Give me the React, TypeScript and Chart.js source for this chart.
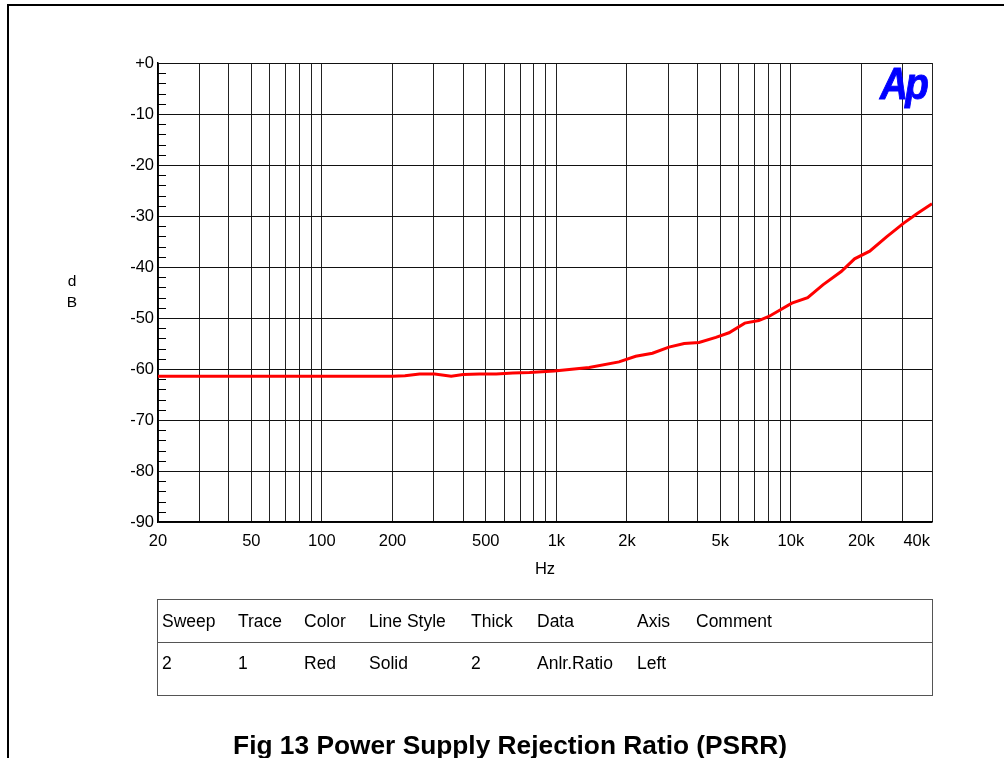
import React, { useEffect, useRef } from 'react';
import { Chart, registerables } from 'chart.js';

Chart.register(...registerables);

// ---- data ----
const freqHz = [20, 25, 30, 40, 50, 63, 80, 100, 125, 160, 200, 226, 261, 303, 356, 400, 470, 554, 652, 768, 980, 1380, 1850, 2180, 2570, 3020, 3510, 4060, 4790, 5450, 6360, 7300, 8060, 10100, 11800, 13700, 16400, 18700, 21700, 25600, 30300, 34600, 40000];
const psrrDb = [-61.4, -61.4, -61.4, -61.4, -61.4, -61.4, -61.4, -61.4, -61.4, -61.4, -61.4, -61.3, -61.0, -61.0, -61.4, -61.1, -61.0, -61.0, -60.8, -60.7, -60.4, -59.7, -58.6, -57.5, -56.9, -55.7, -55.0, -54.8, -53.8, -52.9, -51.0, -50.5, -49.7, -47.1, -46.0, -43.5, -40.9, -38.4, -36.9, -34.1, -31.4, -29.5, -27.6];

const xGridValues = [20, 30, 40, 50, 60, 70, 80, 90, 100, 200, 300, 400, 500, 600, 700, 800, 900, 1000, 2000, 3000, 4000, 5000, 6000, 7000, 8000, 9000, 10000, 20000, 30000, 40000];
const xLabelValues = [20, 50, 100, 200, 500, 1000, 2000, 5000, 10000, 20000, 40000];
const xLabelTexts = ['20', '50', '100', '200', '500', '1k', '2k', '5k', '10k', '20k', '40k'];
const yTickValues = [-90, -80, -70, -60, -50, -40, -30, -20, -10, 0];
const yMinorValues = [-88, -86, -84, -82, -78, -76, -74, -72, -68, -66, -64, -62, -58, -56, -54, -52, -48, -46, -44, -42, -38, -36, -34, -32, -28, -26, -24, -22, -18, -16, -14, -12, -8, -6, -4, -2];

const legendHeaders = ['Sweep', 'Trace', 'Color', 'Line Style', 'Thick', 'Data', 'Axis', 'Comment'];
const legendRow = ['2', '1', 'Red', 'Solid', '2', 'Anlr.Ratio', 'Left', ''];
const legendColX = [162, 238, 304, 369, 471, 537, 637, 696];

const FONT = '"Liberation Sans", Arial, sans-serif';

const overlayPlugin = {
  id: 'apOverlay',
  afterDraw(chart: any) {
    const { ctx, chartArea } = chart;
    const xs = chart.scales.x;
    const ys = chart.scales.y;
    ctx.save();
    // minor ticks on left axis (inside)
    ctx.strokeStyle = '#000';
    ctx.lineWidth = 1;
    ctx.beginPath();
    yMinorValues.forEach((v) => {
      const y = Math.round(ys.getPixelForValue(v)) + 0.5;
      ctx.moveTo(chartArea.left, y);
      ctx.lineTo(chartArea.left + 8, y);
    });
    ctx.stroke();
    // x labels
    ctx.fillStyle = '#000';
    ctx.font = `16.5px ${FONT}`;
    ctx.textBaseline = 'middle';
    xLabelValues.forEach((v, i) => {
      const x = xs.getPixelForValue(v);
      if (i === xLabelValues.length - 1) {
        ctx.textAlign = 'right';
        ctx.fillText(xLabelTexts[i], x - 2, chartArea.bottom + 19);
      } else {
        ctx.textAlign = 'center';
        ctx.fillText(xLabelTexts[i], x, chartArea.bottom + 19);
      }
    });
    ctx.restore();
  },
};

export default function App() {
  const canvasRef = useRef<HTMLCanvasElement | null>(null);

  useEffect(() => {
    const canvas = canvasRef.current;
    if (!canvas) return;
    const chart = new Chart(canvas, {
      type: 'line',
      data: {
        datasets: [
          {
            label: 'Anlr.Ratio',
            data: freqHz.map((f, i) => ({ x: f, y: psrrDb[i] })),
            borderColor: '#ff0000',
            borderWidth: 3,
            pointRadius: 0,
            tension: 0,
            fill: false,
          },
        ],
      },
      options: {
        animation: false,
        responsive: false,
        devicePixelRatio: 1,
        layout: { padding: { left: 100, top: 63, right: 72, bottom: 236 } },
        plugins: { legend: { display: false }, tooltip: { enabled: false }, title: { display: false } },
        scales: {
          x: {
            type: 'logarithmic',
            min: 20,
            max: 40000,
            afterBuildTicks: (s: any) => {
              s.ticks = xGridValues.map((v) => ({ value: v }));
            },
            afterFit: (s: any) => {
              s.height = 0;
            },
            ticks: { display: false },
            grid: { color: '#222', lineWidth: 1, drawTicks: false },
            border: { display: true, color: '#000', width: 1.5 },
          },
          y: {
            type: 'linear',
            min: -90,
            max: 0,
            afterBuildTicks: (s: any) => {
              s.ticks = yTickValues.map((v) => ({ value: v }));
            },
            afterFit: (s: any) => {
              s.width = 58;
            },
            ticks: {
              color: '#000',
              font: { family: FONT, size: 16.5 },
              padding: 4,
              callback: (v: any) => (Number(v) === 0 ? '+0' : String(v)),
            },
            grid: { color: '#111', lineWidth: 1, drawTicks: false },
            border: { display: true, color: '#000', width: 1.5 },
          },
        },
      },
      plugins: [overlayPlugin],
    });
    return () => chart.destroy();
  }, []);

  const abs = (extra: React.CSSProperties): React.CSSProperties => ({ position: 'absolute', ...extra });

  return (
    <div style={{ position: 'absolute', left: 0, top: 0, width: 1004, height: 758, overflow: 'hidden', background: '#fff', fontFamily: FONT, color: '#000' }}>
      <div style={abs({ left: 7, top: 4, width: 1100, height: 900, borderLeft: '2px solid #000', borderTop: '2px solid #000' })} />
      <canvas ref={canvasRef} width={1004} height={758} style={abs({ left: 0, top: 0, width: 1004, height: 758 })} />
      <div style={abs({ left: 60, top: 270, width: 24, textAlign: 'center', fontSize: 15.5, lineHeight: '21px' })}>
        d<br />B
      </div>
      <div style={abs({ left: 505, top: 558, width: 80, textAlign: 'center', fontSize: 16.5, lineHeight: '20px' })}>Hz</div>
      <div style={abs({ left: 880, top: 58, fontSize: 45, fontWeight: 'bold', fontStyle: 'italic', color: '#0000ff', lineHeight: '52px', transform: 'scaleX(0.86)', transformOrigin: 'left top', letterSpacing: -3, WebkitTextStroke: '1px #0000ff' })}>
        Ap
      </div>
      <div style={abs({ left: 157, top: 599, width: 774, height: 95, border: '1px solid #555' })}>
        <div style={abs({ left: 0, top: 42, width: 774, height: 0, borderTop: '1px solid #555' })} />
      </div>
      {legendHeaders.map((t, i) => (
        <div key={'h' + i} style={abs({ left: legendColX[i], top: 610, fontSize: 17.5, lineHeight: '22px', whiteSpace: 'nowrap' })}>{t}</div>
      ))}
      {legendRow.map((t, i) => (
        <div key={'r' + i} style={abs({ left: legendColX[i], top: 652, fontSize: 17.5, lineHeight: '22px', whiteSpace: 'nowrap' })}>{t}</div>
      ))}
      <div style={abs({ left: 0, top: 729, width: 1020, textAlign: 'center', fontSize: 26.3, fontWeight: 'bold', lineHeight: '32px', whiteSpace: 'nowrap' })}>
        Fig 13 Power Supply Rejection Ratio (PSRR)
      </div>
    </div>
  );
}
